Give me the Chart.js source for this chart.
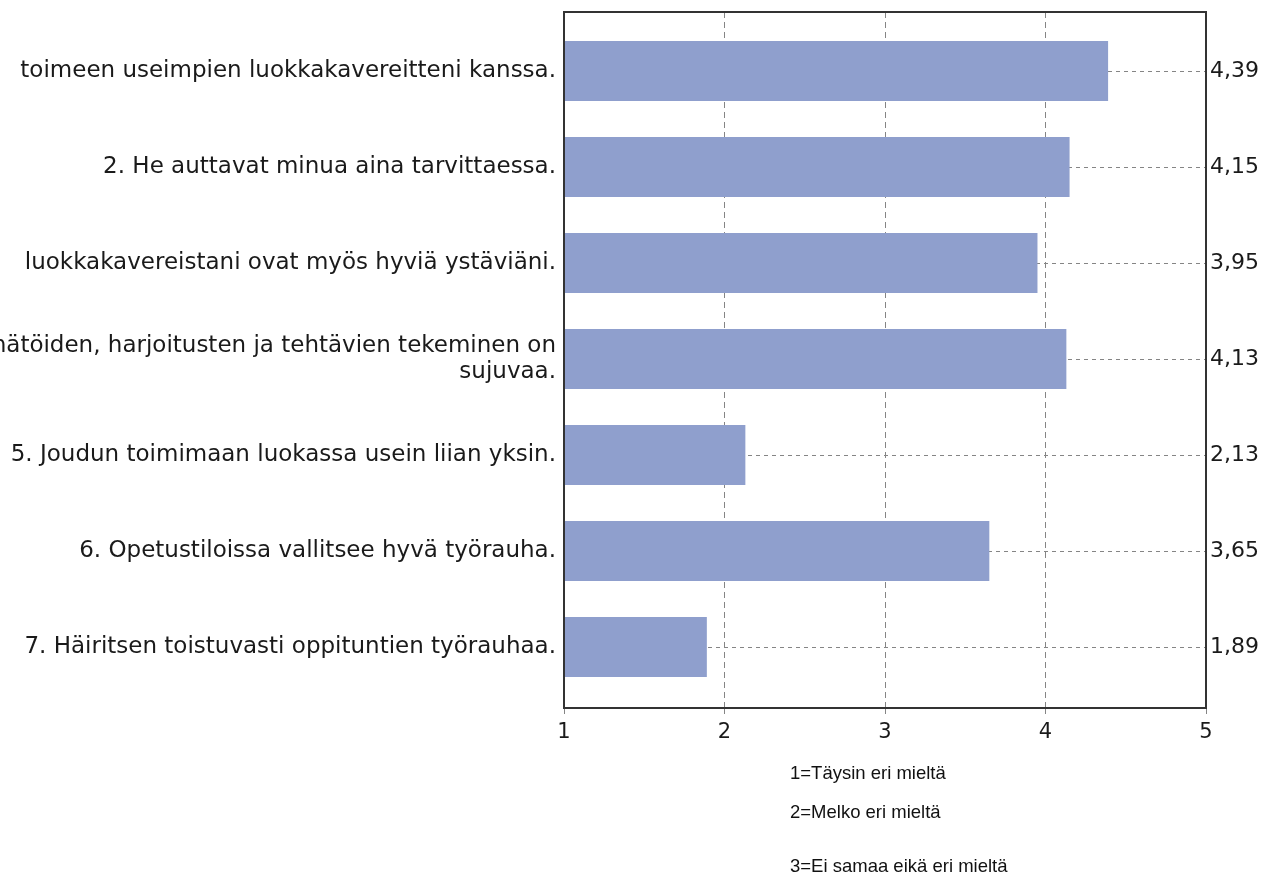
<!DOCTYPE html>
<html>
<head>
<meta charset="utf-8">
<script src="https://cdn.jsdelivr.net/npm/chart.js@4/dist/chart.umd.min.js"></script>
<style>
  body { margin: 0; background: #fff; }
  #wrap { position: relative; width: 1271px; height: 879px; overflow: hidden; }
  .note { position: absolute; left: 790px; font: 18.5px "Liberation Sans", Arial, sans-serif; color: #111; white-space: nowrap; }
</style>
</head>
<body>
<div id="wrap">
  <canvas id="chart"></canvas>
  <div id="notes"></div>
</div>
<script>
// Survey statements as visible in the picture (long ones run off the left edge)
const categories = [
  'toimeen useimpien luokkakavereitteni kanssa.',
  '2. He auttavat minua aina tarvittaessa.',
  'luokkakavereistani ovat myös hyviä ystäviäni.',
  ['4. Ryhmätöiden, harjoitusten ja tehtävien tekeminen on', 'sujuvaa.'],
  '5. Joudun toimimaan luokassa usein liian yksin.',
  '6. Opetustiloissa vallitsee hyvä työrauha.',
  '7. Häiritsen toistuvasti oppituntien työrauhaa.'
];

// Mean answers
const means = [4.39, 4.15, 3.95, 4.13, 2.13, 3.65, 1.89];

// Scale 1..5
const scaleTicks = [1, 2, 3, 4, 5];

// Scale explanation under the chart
const scaleNotes = ['1=Täysin eri mieltä', '2=Melko eri mieltä', '3=Ei samaa eikä eri mieltä'];
const noteTops = [762, 801, 855];

const GRID = '#858585';
const BAR = '#8f9fcd';

const rowTicks = scale => { scale.ticks = categories.map((_, i) => ({ value: i + 1 })); };
const fmt = v => v.toFixed(2).replace('.', ',');

// frame around the plot area
const frame = {
  id: 'frame',
  afterDraw(chart) {
    const a = chart.chartArea, ctx = chart.ctx;
    ctx.save();
    ctx.strokeStyle = '#333';
    ctx.lineWidth = 2;
    ctx.strokeRect(a.left, a.top, a.right - a.left, a.bottom - a.top);
    ctx.restore();
  }
};

Chart.defaults.font.family = "'DejaVu Sans', Verdana, sans-serif";
Chart.defaults.color = '#1a1a1a';

new Chart(document.getElementById('chart'), {
  type: 'bar',
  data: {
    datasets: [{
      data: means.map((v, i) => ({ x: v, y: i + 1 })),
      backgroundColor: BAR,
      borderWidth: 0,
      barPercentage: 0.625,
      categoryPercentage: 1
    }]
  },
  options: {
    indexAxis: 'y',
    responsive: true,
    maintainAspectRatio: false,
    animation: false,
    layout: { padding: { top: 12 } },
    plugins: { legend: { display: false }, tooltip: { enabled: false } },
    scales: {
      x: {
        type: 'linear',
        min: 1,
        max: 5,
        afterBuildTicks: s => { s.ticks = scaleTicks.map(v => ({ value: v })); },
        afterFit: s => { s.height = 171; s.paddingLeft = 0; s.paddingRight = 0; },
        grid: {
          color: c => (c.tick && (c.tick.value === 1 || c.tick.value === 5)) ? 'rgba(0,0,0,0)' : GRID,
          tickColor: GRID,
          tickLength: 6,
          lineWidth: 1
        },
        border: { display: false, dash: [6, 4] },
        ticks: { font: { size: 21 }, padding: 6, color: '#1a1a1a' }
      },
      y: {
        type: 'linear',
        reverse: true,
        offset: false,
        min: 0.385,
        max: 7.635,
        afterBuildTicks: rowTicks,
        afterFit: s => { s.width = 564; s.paddingTop = 0; s.paddingBottom = 0; },
        grid: { color: GRID, drawTicks: false, lineWidth: 1, offset: false },
        border: { display: false, dash: [4, 4] },
        ticks: {
          callback: (v, i) => categories[i],
          font: { size: 23, lineHeight: 1.15 },
          padding: 8,
          color: '#1a1a1a'
        }
      },
      y2: {
        type: 'linear',
        position: 'right',
        reverse: true,
        offset: false,
        min: 0.385,
        max: 7.635,
        afterBuildTicks: rowTicks,
        afterFit: s => { s.width = 65; s.paddingTop = 0; s.paddingBottom = 0; },
        grid: { display: false, drawTicks: false, offset: false },
        border: { display: false },
        ticks: {
          callback: (v, i) => fmt(means[i]),
          font: { size: 22 },
          padding: 4,
          color: '#1a1a1a'
        }
      }
    }
  },
  plugins: [frame]
});

const notes = document.getElementById('notes');
scaleNotes.forEach((t, i) => {
  const d = document.createElement('div');
  d.className = 'note';
  d.style.top = noteTops[i] + 'px';
  d.textContent = t;
  notes.appendChild(d);
});
</script>
</body>
</html>
